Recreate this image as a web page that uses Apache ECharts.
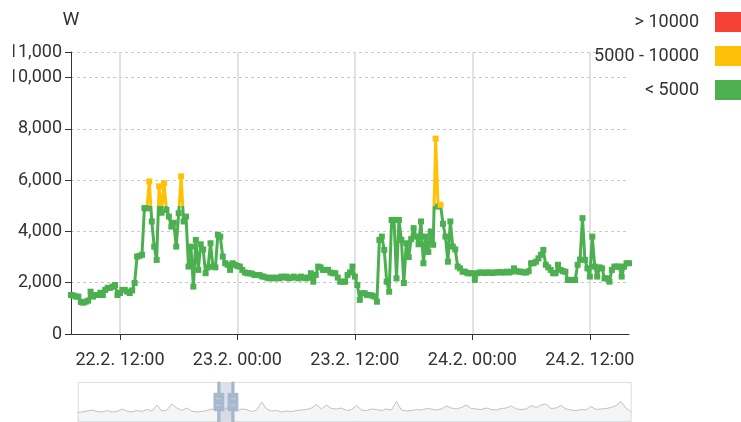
<!DOCTYPE html>
<html>
<head>
<meta charset="utf-8">
<script src="https://cdn.jsdelivr.net/npm/echarts@6/dist/echarts.min.js"></script>
<style>
  html, body { margin: 0; padding: 0; background: #fff; }
  #chart { width: 741px; height: 422px; }
</style>
</head>
<body>
<div id="chart"></div>
<script>
// Readings every 15 minutes, starting 22.2. 07:00
const startDay = 22;
const startHour = 7;
const stepMinutes = 15;

const power = [
  1520, 1500, 1460, 1460, 1250, 1220, 1260, 1300, 1650, 1460, 1520, 1520,
  1610, 1520, 1720, 1800, 1800, 1850, 1910, 1520, 1600, 1720, 1720, 1650,
  1600, 1700, 1990, 3020, 3050, 3090, 4910, 4900, 5950, 4390, 3410, 2890,
  5760, 4730, 5880, 4840, 4580, 4190, 4340, 3410, 4710, 6150, 4390, 4580,
  2630, 3410, 1850, 3670, 2500, 3500, 3300, 2370, 2600, 3540, 2630, 2600,
  3870, 3800, 3020, 2760, 2700, 2500, 2760, 2700, 2650, 2630, 2500, 2400,
  2370, 2370, 2350, 2300, 2300, 2300, 2250, 2230, 2200, 2170, 2200, 2170,
  2200, 2170, 2240, 2200, 2240, 2170, 2200, 2240, 2200, 2170, 2240, 2200,
  2170, 2200, 2370, 2040, 2300, 2630, 2600, 2500, 2500, 2500, 2400, 2370,
  2370, 2200, 2040, 2040, 2040, 2300, 2400, 2630, 2240, 1910, 1330, 1590,
  1590, 1520, 1520, 1500, 1460, 1260, 3670, 3800, 3280, 2040, 1650, 4450,
  4450, 2170, 4450, 3670, 1990, 3540, 3000, 3700, 4130, 3800, 3500, 4390,
  2760, 3800, 3200, 4000, 3480, 7620, 4970, 5040, 4300, 3800, 2820, 4390,
  3410, 3300, 2630, 2560, 2430, 2430, 2370, 2370, 2370, 2110, 2370, 2400,
  2400, 2380, 2400, 2400, 2380, 2400, 2400, 2420, 2400, 2400, 2430, 2400,
  2430, 2560, 2450, 2430, 2430, 2400, 2400, 2450, 2760, 2760, 2820, 2950,
  3090, 3280, 2700, 2600, 2500, 2370, 2370, 2700, 2500, 2450, 2430, 2110,
  2110, 2110, 2110, 2700, 2900, 4520, 2890, 2560, 2240, 3800, 2630, 2240,
  2600, 2560, 2170, 2170, 2040, 2500, 2630, 2630, 2630, 2240, 2630, 2760,
  2760
];

// Long-range overview drawn inside the zoom slider
const overview = [
  1900, 2000, 2200, 2400, 2100, 2000, 2300, 2000, 2100, 2600, 2200, 2000,
  2300, 2100, 2500, 2200, 3400, 2200, 2400, 3600, 2800, 2300, 2800, 2200,
  2000, 2100, 2300, 2600, 2400, 2300, 2800, 2500, 2200, 2600, 2500, 2100,
  2400, 4000, 2600, 2200, 2300, 2000, 2200, 2100, 2300, 2400, 2500, 2800,
  3500, 2600, 3400, 2700, 2600, 2800, 2300, 2500, 3300, 2400, 2300, 2600,
  2500, 2300, 2600, 2400, 4100, 2400, 2200, 2300, 2500, 2400, 2700, 2600,
  2400, 2600, 3200, 2800, 2600, 2900, 3400, 2700, 2600, 2500, 2800, 2500,
  2400, 2700, 2800, 3200, 2600, 2500, 2600, 3300, 2900, 3400, 3600, 2700,
  2800, 3300, 2600, 2400, 2300, 2500, 2400, 3100, 2500, 2600, 2700, 2900,
  3300, 4100, 2800, 2000
];

const pieces = [
  { lte: 5000, label: '< 5000', color: '#4caf50' },
  { gt: 5000, lte: 10000, label: '5000 - 10000', color: '#ffc107' },
  { gt: 10000, label: '> 10000', color: '#f44336' }
];

const yMax = 11000;
const yStep = 2000;

function pad(n) { return (n < 10 ? '0' : '') + n; }
const times = power.map(function (_, i) {
  const total = startHour * 60 + i * stepMinutes;
  const day = startDay + Math.floor(total / 1440);
  const h = Math.floor((total % 1440) / 60);
  const m = total % 60;
  return day + '.2. ' + pad(h) + ':' + pad(m);
});
function isMajor(idx, val) {
  return /\s(00|12):00$/.test(val);
}

const font = 'Roboto, "Noto Sans", sans-serif';
const chart = echarts.init(document.getElementById('chart'));

chart.setOption({
  animation: false,
  textStyle: { fontFamily: font },
  grid: [
    { left: 71, right: 112, top: 52, bottom: 88 },
    { left: 77, right: 110, top: 382, height: 40 },
    { left: 77, right: 110, top: 382, height: 40 }
  ],
  visualMap: {
    type: 'piecewise',
    seriesIndex: 0,
    orient: 'vertical',
    right: -15,
    top: -3,
    align: 'right',
    itemWidth: 26,
    itemHeight: 20,
    itemGap: 14,
    itemSymbol: 'rect',
    textGap: 16,
    selectedMode: false,
    textStyle: { fontSize: 18, color: '#333', fontFamily: font },
    pieces: pieces
  },
  xAxis: [
    {
      type: 'category',
      data: times,
      boundaryGap: false,
      axisLine: { lineStyle: { color: '#333', width: 1 } },
      axisTick: { interval: isMajor, length: 6, lineStyle: { color: '#333' } },
      axisLabel: { interval: isMajor, fontSize: 18, color: '#333', margin: 17 },
      splitLine: { show: true, interval: isMajor, lineStyle: { color: '#d9d9d9', width: 1.5 } }
    },
    { type: 'category', gridIndex: 1, data: overview.map(function (_, i) { return i; }), boundaryGap: false, show: false },
    { type: 'category', gridIndex: 2, data: overview.map(function (_, i) { return i; }), boundaryGap: false, show: false }
  ],
  yAxis: [
    {
      type: 'value',
      min: 0,
      max: yMax,
      interval: yStep,
      name: 'W',
      nameGap: 22,
      nameTextStyle: { fontSize: 19, color: '#333', align: 'center' },
      axisLine: { show: true, lineStyle: { color: '#333', width: 1 } },
      axisTick: { show: true, length: 6, lineStyle: { color: '#333' } },
      axisLabel: { fontSize: 18, color: '#333', margin: 9 },
      splitLine: { lineStyle: { color: '#c8c8c8', type: [3, 3], width: 1 } }
    },
    { type: 'value', gridIndex: 1, min: 0, max: 8000, show: false },
    { type: 'value', gridIndex: 2, min: 0, max: 1, show: false }
  ],
  dataZoom: [{
    type: 'slider',
    xAxisIndex: 2,
    start: 25.3,
    end: 28.2,
    left: 77,
    right: 110,
    top: 382,
    height: 40,
    showDataShadow: false,
    showDetail: false,
    brushSelect: false,
    borderColor: '#ddd',
    backgroundColor: 'rgba(47,69,84,0)',
    fillerColor: 'rgba(167,183,204,0.4)',
    handleIcon: 'path://M8.2,13.6V3.9H6.3v9.7H3.1v14.9h3.3v9.7h1.8v-9.7h3.3V13.6H8.2z M9.7,24.4H4.8v-1.4h4.9V24.4z M9.7,19.1H4.8v-1.4h4.9V19.1z',
    handleSize: '100%',
    handleStyle: { color: '#a7b7cc', borderColor: '#a7b7cc' },
    moveHandleSize: 0
  }],
  graphic: [{
    type: 'rect',
    left: 0,
    top: 40,
    z: 100,
    shape: { width: 13, height: 50 },
    style: { fill: '#fff' }
  }],
  series: [
    {
      type: 'line',
      data: power,
      symbol: 'rect',
      symbolSize: 6,
      showAllSymbol: true,
      lineStyle: { width: 3 },
      z: 3
    },
    {
      type: 'line',
      xAxisIndex: 1,
      yAxisIndex: 1,
      data: overview,
      symbol: 'none',
      silent: true,
      lineStyle: { color: '#aeb4ba', width: 0.8 },
      areaStyle: { color: 'rgba(47,69,84,0.08)' }
    },
    {
      type: 'line',
      xAxisIndex: 2,
      yAxisIndex: 2,
      data: overview.map(function () { return 0; }),
      symbol: 'none',
      silent: true,
      lineStyle: { opacity: 0 }
    }
  ]
});
</script>
</body>
</html>
